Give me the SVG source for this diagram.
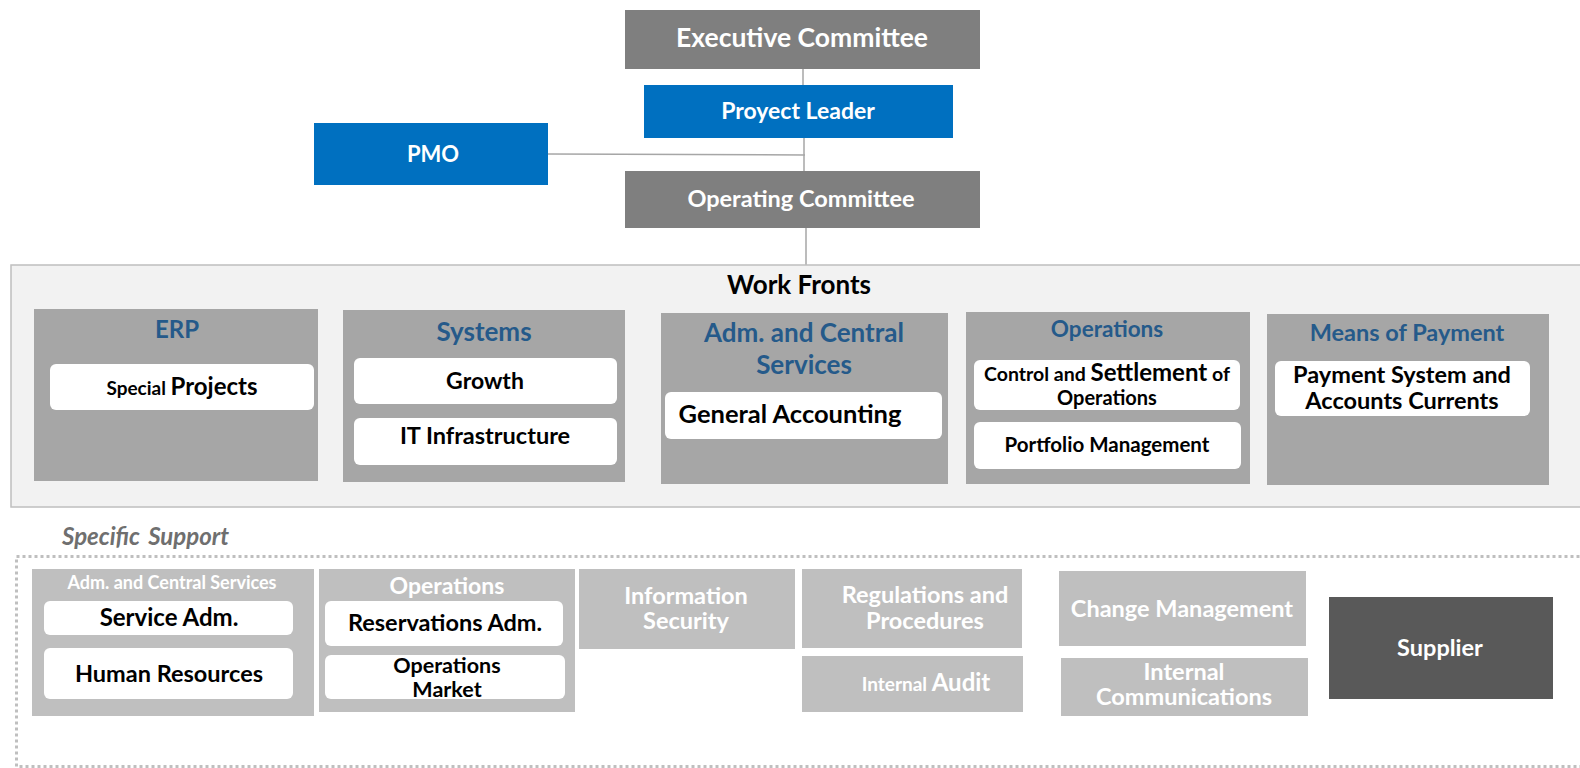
<svg xmlns="http://www.w3.org/2000/svg" width="1580" height="768" viewBox="0 0 1580 768">
<style>
text{font-family:Lato,"Open Sans","Liberation Sans",sans-serif;font-weight:bold;text-anchor:middle}
.dk{fill:#7f7f7f}
.bl{fill:#0070c0}
.wf{fill:#a6a6a6}
.sp{fill:#bfbfbf}
.wb{fill:#ffffff}
.tw{fill:#ffffff}
.tb{fill:#000000}
.tt{fill:#255a8a}
.conn{stroke:#a6a6a6;stroke-width:1.5;fill:none}
</style>
<rect width="1580" height="768" fill="#ffffff"/>
<g id="connectors">
<line class="conn" x1="803" y1="69" x2="803" y2="85"/>
<line class="conn" x1="804" y1="138" x2="804" y2="171"/>
<line class="conn" x1="548" y1="154" x2="805" y2="155"/>
<line class="conn" x1="806" y1="228" x2="806" y2="265"/>
</g>
<g id="exec"><rect class="dk" x="625" y="10" width="355" height="59"/><text class="tw" x="802" y="47" font-size="26.5">Executive Committee</text></g>
<g id="leader"><rect class="bl" x="644" y="85" width="309" height="53"/><text class="tw" x="798" y="119" font-size="23">Proyect Leader</text></g>
<g id="pmo"><rect class="bl" x="314" y="123" width="234" height="62"/><text class="tw" x="433" y="162" font-size="22">PMO</text></g>
<g id="opcom"><rect class="dk" x="625" y="171" width="355" height="57"/><text class="tw" x="801" y="207" font-size="23.5">Operating Committee</text></g>

<g id="workfronts">
<rect x="11" y="265" width="1575" height="242" fill="#f2f2f2" stroke="#bfbfbf" stroke-width="1.5"/>
<text class="tb" x="799" y="294" font-size="26">Work Fronts</text>
</g>
<g id="erp"><rect class="wf" x="34" y="309" width="284" height="172"/><text class="tt" x="177" y="338" font-size="24">ERP</text>
<rect class="wb" x="50" y="364" width="264" height="46" rx="6"/><text class="tb" x="182" y="395" font-size="19">Special <tspan font-size="24">Projects</tspan></text></g>
<g id="systems"><rect class="wf" x="343" y="310" width="282" height="172"/><text class="tt" x="484" y="341" font-size="26">Systems</text>
<rect class="wb" x="354" y="358" width="263" height="46" rx="6"/><text class="tb" x="485" y="389" font-size="23">Growth</text>
<rect class="wb" x="354" y="418" width="263" height="47" rx="6"/><text class="tb" x="485" y="444" font-size="23.5">IT Infrastructure</text></g>
<g id="admwf"><rect class="wf" x="661" y="313" width="287" height="171"/><text class="tt" x="804" y="342" font-size="26">Adm. and Central</text><text class="tt" x="804" y="374" font-size="26">Services</text>
<rect class="wb" x="665" y="392" width="277" height="47" rx="6"/><text class="tb" x="790" y="423" font-size="25.5">General Accounting</text></g>
<g id="opswf"><rect class="wf" x="966" y="312" width="284" height="172"/><text class="tt" x="1107" y="337" font-size="22.5">Operations</text>
<rect class="wb" x="974" y="360" width="266" height="50" rx="6"/><text class="tb" x="1107" y="381" font-size="19.5">Control and <tspan font-size="24">Settlement</tspan> of</text><text class="tb" x="1107" y="405" font-size="20">Operations</text>
<rect class="wb" x="974" y="422" width="267" height="47" rx="6"/><text class="tb" x="1107" y="452" font-size="20.5">Portfolio Management</text></g>
<g id="mop"><rect class="wf" x="1267" y="314" width="282" height="171"/><text class="tt" x="1407" y="341" font-size="23.5">Means of Payment</text>
<rect class="wb" x="1275" y="361" width="255" height="55" rx="6"/><text class="tb" x="1402" y="383" font-size="23.5">Payment System and</text><text class="tb" x="1402" y="409" font-size="23.5">Accounts Currents</text></g>

<g id="support">
<text x="62" y="545" font-size="24" fill="#6f6f6f" font-style="italic" style="text-anchor:start" word-spacing="3">Specific  Support</text>
<rect x="16.5" y="556.5" width="1575" height="210" fill="none" stroke="#bfbfbf" stroke-width="3" stroke-dasharray="3 3"/>
</g>
<g id="s-adm"><rect class="sp" x="32" y="569" width="282" height="147"/><text class="tw" x="172" y="589" font-size="18">Adm. and Central Services</text>
<rect class="wb" x="44" y="601" width="249" height="34" rx="6"/><text class="tb" x="169" y="626" font-size="24">Service Adm.</text>
<rect class="wb" x="44" y="648" width="249" height="51" rx="6"/><text class="tb" x="169" y="682" font-size="23.5">Human Resources</text></g>
<g id="s-ops"><rect class="sp" x="319" y="569" width="256" height="143"/><text class="tw" x="447" y="594" font-size="23">Operations</text>
<rect class="wb" x="325" y="601" width="238" height="45" rx="6"/><text class="tb" x="445" y="631" font-size="23.5">Reservations Adm.</text>
<rect class="wb" x="325" y="655" width="240" height="44" rx="6"/><text class="tb" x="447" y="673" font-size="21.5">Operations</text><text class="tb" x="447" y="697" font-size="21.5">Market</text></g>
<g id="s-infosec"><rect class="sp" x="579" y="569" width="216" height="80"/><text class="tw" x="686" y="604" font-size="23.5">Information</text><text class="tw" x="686" y="629" font-size="23.5">Security</text></g>
<g id="s-reg"><rect class="sp" x="802" y="569" width="220" height="79"/><text class="tw" x="925" y="603" font-size="23.5">Regulations and</text><text class="tw" x="925" y="629" font-size="23.5">Procedures</text></g>
<g id="s-audit"><rect class="sp" x="802" y="656" width="221" height="56"/><text class="tw" x="926" y="691" font-size="19">Internal <tspan font-size="24">Audit</tspan></text></g>
<g id="s-change"><rect class="sp" x="1059" y="571" width="247" height="75"/><text class="tw" x="1182" y="617" font-size="23.5">Change Management</text></g>
<g id="s-comm"><rect class="sp" x="1061" y="658" width="247" height="58"/><text class="tw" x="1184" y="680" font-size="23.5">Internal</text><text class="tw" x="1184" y="705" font-size="23.5">Communications</text></g>
<g id="supplier"><rect x="1329" y="597" width="224" height="102" fill="#595959"/><text class="tw" x="1440" y="656" font-size="23.5">Supplier</text></g>
</svg>
